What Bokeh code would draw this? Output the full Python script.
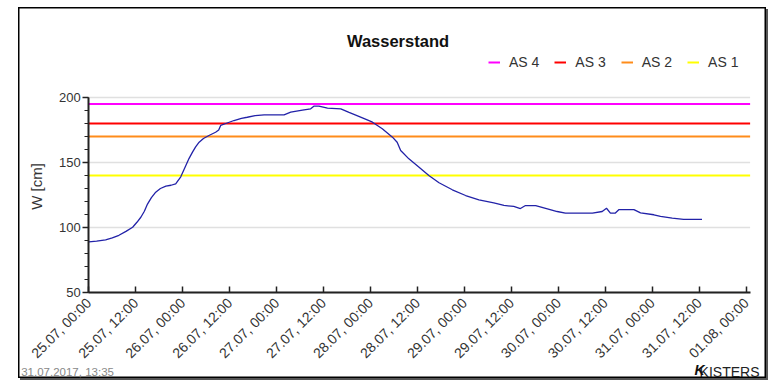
import pandas as pd
from math import pi
from bokeh.plotting import figure
from bokeh.models import (Range1d, FixedTicker, DatetimeTickFormatter, Label,
                          Legend, LegendItem)
from bokeh.embed import file_html
from bokeh.resources import INLINE

# ---------------- data ----------------
START = "2017-07-25 00:00"
AXIS_END = "2017-08-01 01:00"

hours = [0, 2, 4.3, 6, 7.7, 9.5, 11.2, 12.3, 13.3, 14.2, 15, 16, 17.1, 18.3, 19.7,
         21, 22.2, 23.5, 24.8, 25.6, 26.5, 27.3, 28.2, 29.3, 30.7, 32.4, 33.2, 33.7,
         35, 37.1, 39, 40.5, 42.5, 44.8, 49.9, 51.6, 54.6, 56.7, 57.5, 58.8, 61, 64.4,
         66.5, 69, 71, 72.5, 75, 77.6, 78.8, 79.7, 81.8, 84.4, 86.9, 89.5, 92.9, 96.3,
         99.7, 103.5, 106.1, 108.6, 110.3, 111.6, 114.2, 117.2, 119.7, 121.8, 128.7,
         131.2, 132.3, 133.3, 134.5, 135.5, 139.3, 141, 144.4, 146.1, 149.1, 152, 156.7]
level_cm = [89, 89.5, 90.5, 92, 94, 97, 100.2, 104, 107.9, 112.5, 118, 123, 127.2, 130, 131.8,
            132.5, 133.6, 139, 147.7, 153, 158, 162, 165.6, 168.5, 170.8, 173.3, 175, 178.5,
            180, 182.3, 184, 184.8, 186, 186.7, 186.7, 188.7, 190.3, 191.3, 193.3, 193.3, 191.8, 191.3,
            188.5, 185.5, 183, 181, 176, 169.5, 165.6, 159.2, 152.8, 146.4, 140, 134.4, 129, 124.6,
            121.3, 119, 117, 116.2, 114.6, 116.9, 116.9, 114.4, 112.3, 111, 111,
            112.3, 114.8, 111, 111, 113.8, 113.8, 111.3, 109.8, 108.5, 107.2, 106.2, 106.2]

threshold_names = ["AS 4", "AS 3", "AS 2", "AS 1"]
threshold_values = [195, 180, 170, 140]
threshold_colors = ["#FF00FF", "#FF0000", "#FF8C1A", "#FFFF00"]

x_tick_times = pd.date_range("2017-07-25 00:00", "2017-08-01 00:00", freq="12h")
y_major_ticks = [50, 100, 150, 200]
y_minor_ticks = list(range(50, 201, 10))

TITLE = "Wasserstand"
Y_LABEL = "W [cm]"
STAMP = "31.07.2017, 13:35"
BRAND = "KISTERS"

# ---------------- layout constants (pixels) ----------------
W, H = 748, 371            # canvas size
AX_LEFT = 70.3             # x pixel of the y axis (from canvas left)
PX_PER_H = 3.9131          # pixels per hour
AX_BOTTOM = 86             # y pixel of the x axis (from canvas bottom)
PX_PER_CM = 1.3
Y_MIN, Y_MAX = 50, 200

FONT = "Liberation Sans"
t0 = pd.Timestamp(START)
t_end = pd.Timestamp(AXIS_END)
ms = lambda t: t.value / 1e6

x_lo = t0 - pd.Timedelta(hours=AX_LEFT / PX_PER_H)
x_hi = t0 + pd.Timedelta(hours=(W - AX_LEFT) / PX_PER_H)
y_lo = Y_MIN - AX_BOTTOM / PX_PER_CM
y_hi = Y_MIN + (H - AX_BOTTOM) / PX_PER_CM

times = t0 + pd.to_timedelta(hours, unit="h")

p = figure(width=W, height=H, x_axis_type="datetime",
           x_range=Range1d(x_lo, x_hi), y_range=Range1d(y_lo, y_hi),
           output_backend="svg", toolbar_location=None, title_location=None,
           min_border_left=0, min_border_right=0, min_border_top=0, min_border_bottom=0)
p.styles = {"margin-left": "18px", "margin-top": "7px",
            "box-shadow": "2px 2px 0 #555"}
p.outline_line_color = "#000"
p.outline_line_width = 2
p.background_fill_color = "white"
p.border_fill_color = "white"
p.xgrid.visible = False
p.ygrid.visible = False

# horizontal grid lines at the major y ticks
p.segment(x0=[t0] * len(y_major_ticks), y0=y_major_ticks,
          x1=[t_end] * len(y_major_ticks), y1=y_major_ticks,
          line_color="#E0E0E0", line_width=1.5)

renderers = []
for name, val, col in zip(threshold_names, threshold_values, threshold_colors):
    r = p.line([t0, t_end], [val, val], line_color=col, line_width=2)
    renderers.append(r)

p.line(times, level_cm, line_color="#2222A8", line_width=1.3)

# axes
xa = p.xaxis[0]
xa.fixed_location = Y_MIN
xa.bounds = (ms(t0), ms(t_end))
xa.ticker = FixedTicker(ticks=[ms(t) for t in x_tick_times])
fmt = "%d.%m, %H:%M"
xa.formatter = DatetimeTickFormatter(milliseconds=fmt, seconds=fmt, minsec=fmt,
                                     minutes=fmt, hourmin=fmt, hours=fmt,
                                     days=fmt, months=fmt, years=fmt)
xa.major_label_orientation = pi / 4
xa.major_tick_in = 6
xa.major_tick_out = 0
xa.minor_tick_in = 0
xa.minor_tick_out = 0
xa.major_label_standoff = 8
xa.major_label_text_font_size = "14px"

ya = p.yaxis[0]
ya.fixed_location = ms(t0)
ya.bounds = (Y_MIN, Y_MAX)
ya.ticker = FixedTicker(ticks=y_major_ticks, minor_ticks=y_minor_ticks)
ya.major_tick_out = 6
ya.major_tick_in = 0
ya.minor_tick_out = 4
ya.minor_tick_in = 0
ya.major_label_standoff = 2
ya.major_label_text_font_size = "13px"

for ax in (xa, ya):
    ax.axis_line_color = "#222"
    ax.axis_line_width = 2
    ax.major_tick_line_color = "#222"
    ax.major_tick_line_width = 1.5
    ax.minor_tick_line_color = "#222"
    ax.major_label_text_font = FONT
    ax.major_label_text_color = "#333"

# legend
items = [LegendItem(label=n, renderers=[r]) for n, r in zip(threshold_names, renderers)]
legend = Legend(items=items, orientation="horizontal", location=(470, 308),
                glyph_width=12, glyph_height=16, label_height=16, label_width=10,
                label_standoff=9, spacing=15,
                padding=0, margin=0, border_line_color=None, background_fill_alpha=0,
                label_text_font=FONT, label_text_font_size="14px",
                label_text_color="#333")
p.add_layout(legend)

# texts
p.add_layout(Label(x=379.5, y=338, x_units="screen", y_units="screen", text=TITLE,
                   text_align="center", text_baseline="middle", text_font=FONT,
                   text_font_style="bold", text_font_size="16.5px", text_color="#111"))
p.add_layout(Label(x=17.5, y=192, x_units="screen", y_units="screen", text=Y_LABEL,
                   angle=pi / 2, text_align="center", text_baseline="middle",
                   text_font=FONT, text_font_size="15px", text_color="#333"))
p.add_layout(Label(x=2.7, y=7, x_units="screen", y_units="screen", text=STAMP,
                   text_align="left", text_baseline="alphabetic", text_font=FONT,
                   text_font_size="11.5px", text_color="#888"))
p.add_layout(Label(x=741, y=7, x_units="screen", y_units="screen", text=BRAND,
                   text_align="right", text_baseline="alphabetic",
                   text_font="Liberation Sans Narrow, Liberation Sans",
                   text_font_size="14px", text_color="#222"))
p.add_layout(Label(x=686, y=9, x_units="screen", y_units="screen", text="K",
                   text_align="right", text_baseline="alphabetic", text_font=FONT,
                   text_font_style="bold italic", text_font_size="14px",
                   text_color="#111"))

open("out.html", "w").write(file_html(p, INLINE))
